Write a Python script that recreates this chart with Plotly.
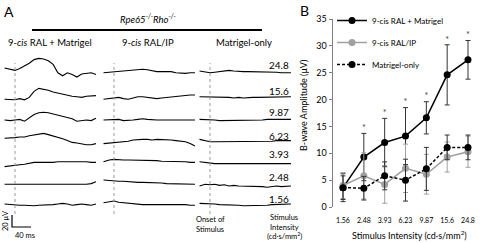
import plotly.graph_objects as go

W, H = 480, 243
FONT = "Lato"

# ---------------- Panel A data (ERG traces, microvolts vs ms) ----------------
TIME_MS = [-22, -10, 0, 10, 20, 30, 40, 50, 60, 70, 80, 90, 100, 110, 120, 130, 140, 150, 160, 170]
INTENSITY_LABELS = ["24.8", "15.6", "9.87", "6.23", "3.93", "2.48", "1.56"]
GROUP_HEADERS = ["9-<i>cis</i> RAL + Matrigel", "9-<i>cis</i> RAL/IP", "Matrigel-only"]

erg_ral_matrigel = [
    [5, 3, 1, 4, 8, 13, 19, 21, 20, 17, 11, -3, -8, -3, -6, -10, -5, -4, -3, -6],
    [-2, -3, -3, -1, -3, 1, 11, 16, 15, 13, 10, 8, 6, 4, 3, 2, 1, 3, 4, 4],
    [0, -1, 0, 1, -2, 3, 9, 12, 13, 12, 10, 8, 7, 5, 2, -2, -1, 0, -1, 3],
    [3, 3, 4, 5, 5, 7, 8, 10, 11, 9, 7, 4, 2, -1, -4, -5, -7, -8, -8, -6],
    [-6, -5, -5, -3, -2, 0, 1, 1, 1, 0, 1, 2, 2, 3, 3, 3, 2, 2, 1, 1],
    [-2, -2, -3, -3, -3, -3, -3, -3, -3, -3, -3, -3, -3, -3, -3, -3, -3, -2, -1, 2],
    [0, -1, -1, -2, -2, -3, -3, -2, -2, -2, -1, 0, 1, 0, -2, -1, 0, -1, -2, 0],
]
erg_ral_ip = [
    [-3, -2, -2, -1, 0, 1, 2, 2, 3, 2, 0, -1, -1, -1, -1, -3, -4, -4, -3, -3],
    [-2, -1, 0, 1, -1, -2, 0, 2, 2, 1, 0, -1, 0, 1, 2, 2, 3, 4, 5, 5],
    [0, 0, 1, 1, -1, -1, 0, 1, 2, 1, 0, 0, 0, 0, -1, -1, -1, -1, 0, 0],
    [-6, -5, -5, -4, -3, -2, 0, 1, 1, 1, 0, 1, 1, 1, 0, -1, -2, -3, -6, -10],
    [2, 5, 6, 5, 5, 5, 5, 5, 4, 4, 4, 4, 3, 3, 3, 3, 2, 2, 1, 1],
    [5, 4, 3, 3, 3, 2, 1, 1, 1, 1, 0, 0, 0, -1, -1, -1, -1, -1, -2, -2],
    [2, 4, 5, 3, 2, 1, 0, 0, -1, -1, -1, -1, -1, 0, -1, -1, -1, -1, -2, -2],
]
erg_matrigel_only = [
    [0, -1, -3, -2, -1, 1, 1, 0, -1, -1, -1, -1, -1, -2, -2, -2, -2, -3, -3, -3],
    [2, 2, 1, 1, 1, 1, 1, 0, 1, 0, 1, 1, 1, 1, 1, 2, 2, 2, 2, 2],
    [1, 1, 0, 0, -1, -1, -1, -1, -1, -1, -1, 0, 0, 0, 1, 1, 1, 1, 1, 1],
    [1, -1, -3, -3, -3, -3, -3, -3, -3, -3, -3, -2, -2, -2, -2, -2, -1, -1, -1, -1],
    [2, 1, -1, -1, -1, -1, -1, -1, -1, -1, -1, -1, -1, -2, -2, -2, -1, -1, -1, -1],
    [-5, -2, -3, -2, -4, -3, -5, -4, -5, -5, -6, -5, -6, -6, -7, -6, -5, -6, -5, -5],
    [1, 1, 0, 0, -1, -1, -1, -2, -2, -3, -3, -3, -2, -2, -2, -1, -1, -1, 0, 0],
]
SCALE_MS = 40
SCALE_UV = 20

# ---------------- Panel B data ----------------
B_CATEGORIES = ["1.56", "2.48", "3.93", "6.23", "9.87", "15.6", "24.8"]
combo_mean = [3.6, 9.3, 12.0, 13.2, 16.6, 24.6, 27.4]
combo_err = [2.6, 4.4, 4.5, 5.3, 3.0, 5.6, 3.6]
ip_mean = [4.0, 5.8, 4.2, 7.2, 6.1, 9.3, 10.3]
ip_err = [2.4, 4.3, 3.5, 4.5, 3.7, 2.8, 2.9]
only_mean = [3.6, 3.5, 5.8, 5.0, 7.1, 11.1, 11.1]
only_err = [2.2, 2.2, 2.6, 3.9, 4.0, 2.3, 2.3]
significant = [False, True, True, True, True, True, True]
B_SERIES_NAMES = ["9-cis RAL + Matrigel", "9-cis RAL/IP", "Matrigel-only"]

# ---------------- geometry helpers ----------------
def px(xp):
    return xp / W

def py(yp):
    return 1 - yp / H

MS_PER_PX = 2.1
UV_PER_PX = 20 / 12
col_onset_px = [15, 114, 210]
row_ref_px = [71, 98, 120, 140, 163, 183, 204]

layout = dict(
    template="none",
    width=W, height=H,
    margin=dict(l=0, r=0, t=0, b=0, pad=0, autoexpand=False),
    paper_bgcolor="white", plot_bgcolor="rgba(0,0,0,0)",
    font=dict(family=FONT, color="black"),
    showlegend=True,
)

def xname(i):
    return "xaxis" if i == 1 else f"xaxis{i}"

def yname(i):
    return "yaxis" if i == 1 else f"yaxis{i}"

def xref(i):
    return "x" if i == 1 else f"x{i}"

def yref(i):
    return "y" if i == 1 else f"y{i}"

for c, onset in enumerate(col_onset_px):
    layout[xname(c + 1)] = dict(domain=[px(onset - 12), px(onset + 84)],
                                range=[-12 * MS_PER_PX, 84 * MS_PER_PX],
                                visible=False, anchor="y", fixedrange=True, automargin=False)
for r, ref in enumerate(row_ref_px):
    up, down = 16, (28 if r == 6 else 14)
    layout[yname(r + 1)] = dict(domain=[py(ref + down), py(ref - up)],
                                range=[-down * UV_PER_PX, up * UV_PER_PX],
                                visible=False, anchor="x", fixedrange=True, automargin=False)

fig = go.Figure()
columns = [erg_ral_matrigel, erg_ral_ip, erg_matrigel_only]
for c, col in enumerate(columns):
    for r, vals in enumerate(col):
        fig.add_trace(go.Scatter(x=TIME_MS, y=vals, xaxis=xref(c + 1), yaxis=yref(r + 1),
                                 mode="lines", line=dict(color="black", width=1.1),
                                 showlegend=False, hoverinfo="skip"))

shapes = []
for c in range(3):
    shapes.append(dict(type="line", xref=xref(c + 1), yref="paper", x0=0, x1=0,
                       y0=py(214), y1=py(63), line=dict(color="#9a9a9a", width=1, dash="dot")))
sb_t0 = -3 * MS_PER_PX
sb_v0 = -11 * UV_PER_PX
shapes.append(dict(type="path", xref="x", yref="y7",
                   path=f"M {sb_t0} {sb_v0} L {sb_t0} {sb_v0 - SCALE_UV} L {sb_t0 + SCALE_MS} {sb_v0 - SCALE_UV}",
                   line=dict(color="black", width=1.2)))
shapes.append(dict(type="line", xref="paper", yref="paper", x0=px(32), x1=px(262),
                   y0=py(30), y1=py(30), line=dict(color="black", width=1.8)))

annotations = []
def ann(text, x, y, size, xanchor="center", angle=0):
    annotations.append(dict(text=text, x=px(x), y=py(y), xref="paper", yref="paper",
                            xanchor=xanchor, yanchor="middle", showarrow=False,
                            textangle=angle, font=dict(size=size, family=FONT, color="black")))

ann("A", 9, 11, 14)
ann("B", 304, 10, 14)
ann("<i>Rpe65<sup>-/-</sup>Rho<sup>-/-</sup></i>", 148, 19, 9.5)
ann(GROUP_HEADERS[0], 50, 42, 9.5)
ann(GROUP_HEADERS[1], 148, 42, 9.5)
ann(GROUP_HEADERS[2], 244, 42, 9.5)
label_y = [65, 91, 112, 136, 154, 177, 199]
for lab, yy in zip(INTENSITY_LABELS, label_y):
    ann(lab, 291, yy, 10, xanchor="right")
ann("20 μV", 5, 221, 7.5, angle=-90)
ann("40 ms", 25, 235, 7.5)
ann("Onset of", 210, 219, 7.5)
ann("Stimulus", 210, 229, 7.5)
ann("Stimulus", 284, 217, 7.5)
ann("Intensity", 284, 227, 7.5)
ann("(cd·s/mm<sup>2</sup>)", 284, 236, 7.5)
ann("B-wave Amplitude (μV)", 303, 106, 9, angle=-90)
ann("Stimulus Intensity (cd·s/mm<sup>2</sup>)", 409, 235, 9)

# ---------------- Panel B ----------------
layout["xaxis4"] = dict(domain=[px(332.6), px(478.4)], type="category",
                        categoryorder="array", categoryarray=B_CATEGORIES,
                        range=[-0.5, 6.5], anchor="y8", showline=False, showgrid=False,
                        zeroline=False, ticks="outside", ticklen=7, tickcolor="rgba(0,0,0,0)",
                        tickfont=dict(size=7, family=FONT), fixedrange=True, automargin=False)
layout["yaxis8"] = dict(domain=[py(207), py(19)], range=[0, 35], dtick=5, anchor="x4",
                        showline=True, linecolor="#7f7f7f", linewidth=1, showgrid=False,
                        zeroline=False, ticks="outside", ticklen=3, tickcolor="#7f7f7f",
                        tickfont=dict(size=9, family=FONT), fixedrange=True, automargin=False)

fig.add_trace(go.Scatter(x=B_CATEGORIES, y=combo_mean, xaxis="x4", yaxis="y8",
                         name=B_SERIES_NAMES[0], legendgroup="a",
                         mode="lines+markers", line=dict(color="black", width=1.5),
                         marker=dict(color="black", size=7),
                         error_y=dict(type="data", array=combo_err, color="#333333", thickness=1, width=2.5)))
fig.add_trace(go.Scatter(x=B_CATEGORIES, y=ip_mean, xaxis="x4", yaxis="y8",
                         name=B_SERIES_NAMES[1], legendgroup="b",
                         mode="lines+markers", line=dict(color="#a0a0a0", width=1.5),
                         marker=dict(color="#a0a0a0", size=7),
                         error_y=dict(type="data", array=ip_err, color="#a0a0a0", thickness=1, width=2.5)))
fig.add_trace(go.Scatter(x=B_CATEGORIES, y=only_mean, xaxis="x4", yaxis="y8",
                         name=B_SERIES_NAMES[2], legendgroup="c",
                         mode="lines+markers", line=dict(color="black", width=1.5, dash="3px,2px"),
                         marker=dict(color="black", size=7),
                         error_y=dict(type="data", array=only_err, color="#333333", thickness=1, width=2.5)))
star_x = [c for c, s in zip(B_CATEGORIES, significant) if s]
star_y = [m + e for m, e, s in zip(combo_mean, combo_err, significant) if s]
fig.add_trace(go.Scatter(x=star_x, y=star_y, xaxis="x4", yaxis="y8", mode="text",
                         text=["*"] * len(star_x), textposition="top center",
                         textfont=dict(size=9, family=FONT, color="#444444"),
                         showlegend=False, hoverinfo="skip"))

layout["legend"] = dict(x=px(332), y=py(6), xanchor="left", yanchor="top",
                        font=dict(size=8, family=FONT), itemwidth=30,
                        bgcolor="rgba(0,0,0,0)", tracegroupgap=3, traceorder="grouped")
layout["shapes"] = shapes
layout["annotations"] = annotations
fig.update_layout(**layout)
fig.write_html("out.html", config={"displayModeBar": False, "staticPlot": True},
               post_script="document.body.style.margin='0';document.body.style.padding='0';"
                           "document.documentElement.style.margin='0';")
